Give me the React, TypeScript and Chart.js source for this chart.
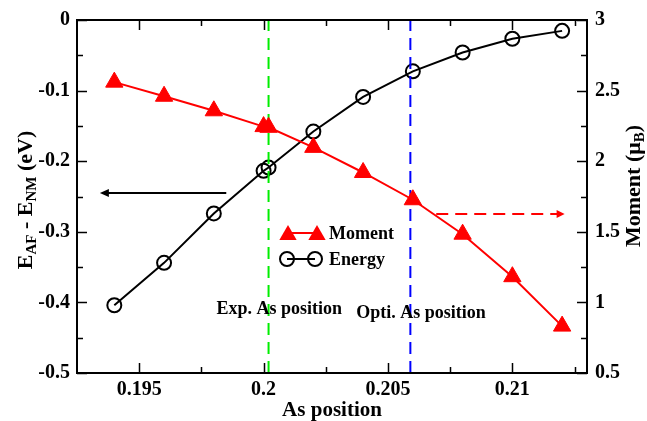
import React, { useEffect, useRef } from 'react';
import { Chart, registerables } from 'chart.js';

Chart.register(...registerables);

// ---- data ----
const energyPositions = [0.194, 0.196, 0.198, 0.2, 0.2002, 0.202, 0.204, 0.206, 0.208, 0.21, 0.212];
const energyValues = [-0.404, -0.344, -0.274, -0.2136, -0.209, -0.158, -0.109, -0.0727, -0.046, -0.0266, -0.0154];
const momentPositions = [0.194, 0.196, 0.198, 0.2, 0.2002, 0.202, 0.204, 0.206, 0.208, 0.21, 0.212];
const momentValues = [2.56, 2.46, 2.357, 2.245, 2.24, 2.098, 1.92, 1.727, 1.483, 1.182, 0.832];

const expPosition = 0.2002;
const optPosition = 0.2059;

const xMajorTicks = [0.195, 0.2, 0.205, 0.21];
const xTickLabels = ['0.195', '0.2', '0.205', '0.21'];
const xMinorTicks = [0.1975, 0.2025, 0.2075, 0.2125];
const yMajorTicks = [0, -0.1, -0.2, -0.3, -0.4, -0.5];
const yTickLabels = ['0', '-0.1', '-0.2', '-0.3', '-0.4', '-0.5'];
const yMinorTicks = [-0.05, -0.15, -0.25, -0.35, -0.45];
const y1MajorTicks = [0.5, 1, 1.5, 2, 2.5, 3];
const y1TickLabels = ['0.5', '1', '1.5', '2', '2.5', '3'];
const y1MinorTicks = [0.75, 1.25, 1.75, 2.25, 2.75];

// annotation arrows (data coords)
const energyArrow = { from: 0.1985, to: 0.19342, y: -0.245 };
const momentArrow = { from: 0.20694, to: 0.2121, y: 1.626 };
// annotation labels (data coords on x / energy axis)
const labelTexts = ['Exp. As position', 'Opti. As position'];
const labelX = [0.19811, 0.20372];
const labelY = [-0.41, -0.4154];

const FONT = '"Liberation Serif", "Times New Roman", serif';

function drawRich(ctx: CanvasRenderingContext2D, parts: { t: string; sub?: boolean }[], cx: number, cy: number, size: number, subSize: number, subShift: number) {
  ctx.save();
  ctx.translate(cx, cy);
  ctx.rotate(-Math.PI / 2);
  let total = 0;
  const widths = parts.map((p) => {
    ctx.font = `bold ${p.sub ? subSize : size}px ${FONT}`;
    const w = ctx.measureText(p.t).width;
    total += w;
    return w;
  });
  let x = -total / 2;
  ctx.fillStyle = '#000';
  ctx.textBaseline = 'alphabetic';
  ctx.textAlign = 'left';
  parts.forEach((p, i) => {
    ctx.font = `bold ${p.sub ? subSize : size}px ${FONT}`;
    ctx.fillText(p.t, x, p.sub ? subShift : 0);
    x += widths[i];
  });
  ctx.restore();
}

function triangle(ctx: CanvasRenderingContext2D, x: number, y: number, r: number) {
  ctx.beginPath();
  for (let i = 0; i < 3; i++) {
    const a = (i * 2 * Math.PI) / 3;
    const px = x + Math.sin(a) * r;
    const py = y - Math.cos(a) * r;
    if (i === 0) ctx.moveTo(px, py);
    else ctx.lineTo(px, py);
  }
  ctx.closePath();
  ctx.fill();
}

function arrowHead(ctx: CanvasRenderingContext2D, x: number, y: number, dir: number, len: number, half: number) {
  ctx.beginPath();
  ctx.moveTo(x, y);
  ctx.lineTo(x - dir * len, y - half);
  ctx.lineTo(x - dir * len, y + half);
  ctx.closePath();
  ctx.fill();
}

const customPlugin = {
  id: 'custom',
  afterDatasetsDraw(chart: any) {
    const ctx: CanvasRenderingContext2D = chart.ctx;
    const xs = chart.scales.x;
    const ys = chart.scales.y;
    const y1 = chart.scales.y1;
    ctx.save();
    // black arrow (energy)
    {
      const x0 = xs.getPixelForValue(energyArrow.from);
      const x1 = xs.getPixelForValue(energyArrow.to);
      const yy = ys.getPixelForValue(energyArrow.y);
      ctx.strokeStyle = '#000';
      ctx.fillStyle = '#000';
      ctx.lineWidth = 2;
      ctx.beginPath();
      ctx.moveTo(x0, yy);
      ctx.lineTo(x1 + 6, yy);
      ctx.stroke();
      arrowHead(ctx, x1, yy, -1, 9, 4);
    }
    // red dashed arrow (moment)
    {
      const x0 = xs.getPixelForValue(momentArrow.from);
      const x1 = xs.getPixelForValue(momentArrow.to);
      const yy = y1.getPixelForValue(momentArrow.y);
      ctx.strokeStyle = '#ff0000';
      ctx.fillStyle = '#ff0000';
      ctx.lineWidth = 2;
      ctx.setLineDash([12, 7]);
      ctx.beginPath();
      ctx.moveTo(x0, yy);
      ctx.lineTo(x1 - 6, yy);
      ctx.stroke();
      ctx.setLineDash([]);
      arrowHead(ctx, x1, yy, 1, 8, 4);
    }
    // text labels
    ctx.fillStyle = '#000';
    ctx.font = `bold 18px ${FONT}`;
    ctx.textAlign = 'left';
    ctx.textBaseline = 'middle';
    labelTexts.forEach((t, i) => {
      ctx.fillText(t, xs.getPixelForValue(labelX[i]), ys.getPixelForValue(labelY[i]));
    });
    // legend
    {
      const ly1 = 233;
      const ly2 = 259;
      ctx.strokeStyle = '#ff0000';
      ctx.fillStyle = '#ff0000';
      ctx.lineWidth = 2;
      ctx.beginPath();
      ctx.moveTo(288, ly1);
      ctx.lineTo(317, ly1);
      ctx.stroke();
      triangle(ctx, 288, ly1 + 2, 10);
      triangle(ctx, 317, ly1 + 2, 10);
      ctx.strokeStyle = '#000';
      ctx.beginPath();
      ctx.moveTo(287, ly2);
      ctx.lineTo(315, ly2);
      ctx.stroke();
      ctx.beginPath();
      ctx.arc(287, ly2, 7, 0, Math.PI * 2);
      ctx.stroke();
      ctx.beginPath();
      ctx.arc(315, ly2, 7, 0, Math.PI * 2);
      ctx.stroke();
      ctx.fillStyle = '#000';
      ctx.font = `bold 18px ${FONT}`;
      ctx.textAlign = 'left';
      ctx.textBaseline = 'middle';
      ctx.fillText('Moment', 329, ly1 + 1);
      ctx.fillText('Energy', 329, ly2 + 1);
    }
    ctx.restore();
  },
  afterDraw(chart: any) {
    const ctx: CanvasRenderingContext2D = chart.ctx;
    const { left, right, top, bottom } = chart.chartArea;
    const xs = chart.scales.x;
    const ys = chart.scales.y;
    const y1 = chart.scales.y1;
    ctx.save();
    ctx.strokeStyle = '#000';
    ctx.lineWidth = 2;
    ctx.strokeRect(left, top, right - left, bottom - top);
    ctx.lineWidth = 1.5;
    ctx.beginPath();
    const major = 10;
    const minor = 6;
    xMajorTicks.forEach((v) => {
      const p = Math.round(xs.getPixelForValue(v)) + 0.5;
      ctx.moveTo(p, bottom); ctx.lineTo(p, bottom - major);
      ctx.moveTo(p, top); ctx.lineTo(p, top + major);
    });
    xMinorTicks.forEach((v) => {
      const p = Math.round(xs.getPixelForValue(v)) + 0.5;
      ctx.moveTo(p, bottom); ctx.lineTo(p, bottom - minor);
      ctx.moveTo(p, top); ctx.lineTo(p, top + minor);
    });
    yMajorTicks.forEach((v) => {
      const p = Math.round(ys.getPixelForValue(v)) + 0.5;
      ctx.moveTo(left, p); ctx.lineTo(left + major, p);
    });
    yMinorTicks.forEach((v) => {
      const p = Math.round(ys.getPixelForValue(v)) + 0.5;
      ctx.moveTo(left, p); ctx.lineTo(left + minor, p);
    });
    y1MajorTicks.forEach((v) => {
      const p = Math.round(y1.getPixelForValue(v)) + 0.5;
      ctx.moveTo(right, p); ctx.lineTo(right - major, p);
    });
    y1MinorTicks.forEach((v) => {
      const p = Math.round(y1.getPixelForValue(v)) + 0.5;
      ctx.moveTo(right, p); ctx.lineTo(right - minor, p);
    });
    ctx.stroke();

    // x title
    ctx.fillStyle = '#000';
    ctx.font = `bold 21px ${FONT}`;
    ctx.textAlign = 'center';
    ctx.textBaseline = 'alphabetic';
    ctx.fillText('As position', (left + right) / 2, 416);

    // left title
    drawRich(
      ctx,
      [{ t: 'E' }, { t: 'AF', sub: true }, { t: ' - E' }, { t: 'NM', sub: true }, { t: ' (eV)' }],
      32, 200, 22, 15, 4
    );
    // right title
    drawRich(
      ctx,
      [{ t: 'Moment (\u03bc' }, { t: 'B', sub: true }, { t: ')' }],
      640, 186, 22, 15, 4
    );
    ctx.restore();
  },
};

export default function App() {
  const ref = useRef<HTMLCanvasElement | null>(null);
  useEffect(() => {
    if (!ref.current) return;
    const tickFont = { family: FONT, size: 20, weight: 'bold' as const };
    const chart = new Chart(ref.current, {
      type: 'line',
      data: {
        datasets: [
          {
            label: 'Moment',
            data: momentPositions.map((x, i) => ({ x, y: momentValues[i] })),
            yAxisID: 'y1',
            borderColor: '#ff0000',
            backgroundColor: '#ff0000',
            borderWidth: 2,
            pointStyle: 'triangle',
            pointRadius: 10,
            pointBorderWidth: 1,
            pointBackgroundColor: '#ff0000',
            pointBorderColor: '#ff0000',
            order: 1,
          },
          {
            label: 'Exp',
            data: [{ x: expPosition, y: -0.5 }, { x: expPosition, y: 0 }],
            yAxisID: 'y',
            borderColor: '#00ee00',
            borderWidth: 2,
            borderDash: [12, 7],
            pointRadius: 0,
            order: 2,
          },
          {
            label: 'Opt',
            data: [{ x: optPosition, y: -0.5 }, { x: optPosition, y: 0 }],
            yAxisID: 'y',
            borderColor: '#0000ff',
            borderWidth: 2,
            borderDash: [12, 7],
            pointRadius: 0,
            order: 2,
          },
          {
            label: 'Energy',
            data: energyPositions.map((x, i) => ({ x, y: energyValues[i] })),
            yAxisID: 'y',
            borderColor: '#000',
            backgroundColor: 'rgba(0,0,0,0)',
            borderWidth: 2,
            pointStyle: 'circle',
            pointRadius: 7,
            pointBorderWidth: 2,
            pointBackgroundColor: 'rgba(0,0,0,0)',
            pointBorderColor: '#000',
            order: 3,
          },
        ],
      },
      options: {
        responsive: false,
        animation: false,
        layout: { padding: { top: 15, left: 0, right: 0, bottom: 0 } },
        plugins: { legend: { display: false }, tooltip: { enabled: false } },
        scales: {
          x: {
            type: 'linear',
            position: 'bottom',
            min: 0.1925,
            max: 0.213,
            grid: { display: false, drawTicks: false },
            border: { display: false },
            afterBuildTicks: (s: any) => { s.ticks = xMajorTicks.map((v) => ({ value: v })); },
            afterFit: (s: any) => { s.height = 48; },
            ticks: {
              font: tickFont,
              color: '#000',
              padding: 5,
              maxRotation: 0,
              autoSkip: false,
              callback: (v: any) => { const i = xMajorTicks.findIndex((t) => Math.abs(t - v) < 1e-9); return i >= 0 ? xTickLabels[i] : ''; },
            },
          },
          y: {
            type: 'linear',
            position: 'left',
            min: -0.5,
            max: 0,
            grid: { display: false, drawTicks: false },
            border: { display: false },
            afterBuildTicks: (s: any) => { s.ticks = yMajorTicks.map((v) => ({ value: v })); },
            afterFit: (s: any) => { s.width = 77; },
            ticks: {
              font: tickFont,
              color: '#000',
              padding: 7,
              autoSkip: false,
              callback: (v: any) => { const i = yMajorTicks.findIndex((t) => Math.abs(t - v) < 1e-9); return i >= 0 ? yTickLabels[i] : ''; },
            },
          },
          y1: {
            type: 'linear',
            position: 'right',
            min: 0.5,
            max: 3,
            grid: { display: false, drawTicks: false },
            border: { display: false },
            afterBuildTicks: (s: any) => { s.ticks = y1MajorTicks.map((v) => ({ value: v })); },
            afterFit: (s: any) => { s.width = 60; },
            ticks: {
              font: tickFont,
              color: '#000',
              padding: 8,
              autoSkip: false,
              callback: (v: any) => { const i = y1MajorTicks.findIndex((t) => Math.abs(t - v) < 1e-9); return i >= 0 ? y1TickLabels[i] : ''; },
            },
          },
        },
      },
      plugins: [customPlugin],
    });
    return () => chart.destroy();
  }, []);
  return (
    <div style={{ position: 'fixed', left: 0, top: 0, width: 647, height: 421, background: '#fff' }}>
      <canvas ref={ref} width={647} height={421} />
    </div>
  );
}
